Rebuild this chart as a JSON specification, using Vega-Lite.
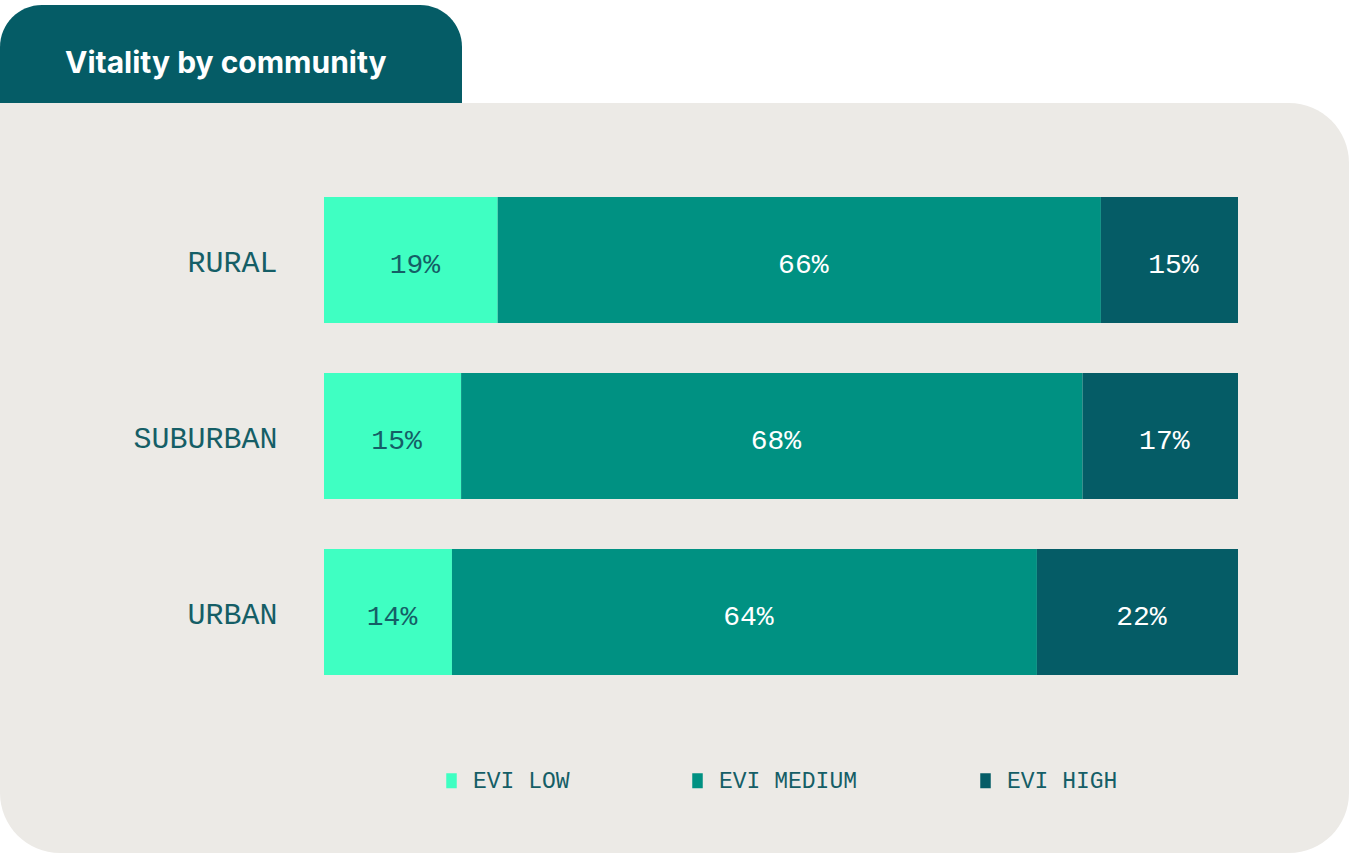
{
  "$schema": "https://vega.github.io/schema/vega-lite/v6.json",
  "background": "#FFFFFF",
  "padding": {"left": 0, "top": 5, "right": 0, "bottom": 0},
  "spacing": 0,
  "vconcat": [
    {
      "width": 462,
      "height": 98,
      "view": {"style": "tab"},
      "title": {
        "text": "Vitality by community",
        "anchor": "start",
        "frame": "group",
        "orient": "top",
        "offset": -98,
        "dx": 65,
        "baseline": "alphabetic",
        "font": "Inter",
        "fontSize": 30,
        "fontWeight": "bold",
        "color": "#FFFFFF"
      },
      "data": {"values": []},
      "mark": "rect",
      "encoding": {}
    },
    {
      "width": 1349,
      "height": 750,
      "data": {
        "values": [
          {"community": "RURAL", "level": "EVI LOW", "value": 0.19, "order": 1},
          {"community": "RURAL", "level": "EVI MEDIUM", "value": 0.66, "order": 2},
          {"community": "RURAL", "level": "EVI HIGH", "value": 0.15, "order": 3},
          {"community": "SUBURBAN", "level": "EVI LOW", "value": 0.15, "order": 1},
          {"community": "SUBURBAN", "level": "EVI MEDIUM", "value": 0.68, "order": 2},
          {"community": "SUBURBAN", "level": "EVI HIGH", "value": 0.17, "order": 3},
          {"community": "URBAN", "level": "EVI LOW", "value": 0.14, "order": 1},
          {"community": "URBAN", "level": "EVI MEDIUM", "value": 0.64, "order": 2},
          {"community": "URBAN", "level": "EVI HIGH", "value": 0.22, "order": 3}
        ]
      },
      "encoding": {
        "y": {
          "field": "community",
          "type": "nominal",
          "sort": ["RURAL", "SUBURBAN", "URBAN"],
          "scale": {"range": [94, 572], "paddingInner": 0.2841, "paddingOuter": 0},
          "axis": {
            "title": null,
            "domain": false,
            "ticks": false,
            "grid": false,
            "offset": -277,
            "labelPadding": 0,
            "labelOffset": 3,
            "labelFont": "Liberation Mono",
            "labelFontSize": 30,
            "labelColor": "#155E66",
            "labelAlign": "right",
            "labelBaseline": "middle"
          }
        }
      },
      "layer": [
        {
          "mark": {"type": "bar", "cornerRadius": 0},
          "encoding": {
            "x": {
              "field": "value",
              "type": "quantitative",
              "stack": "zero",
              "scale": {"domain": [0, 1], "range": [324, 1238]},
              "axis": null
            },
            "order": {"field": "order", "type": "quantitative"},
            "color": {
              "field": "level",
              "type": "nominal",
              "scale": {
                "domain": ["EVI LOW", "EVI MEDIUM", "EVI HIGH"],
                "range": ["#3FFFC2", "#009182", "#055C66"]
              },
              "legend": {
                "orient": "none",
                "direction": "horizontal",
                "legendX": 440,
                "legendY": 764,
                "title": null,
                "padding": 0,
                "symbolType": "M-0.7,-1L0.7,-1L0.7,1L-0.7,1Z",
                "symbolSize": 225,
                "symbolStrokeWidth": 0,
                "labelFont": "Liberation Mono",
                "labelFontSize": 23,
                "labelColor": "#155E66",
                "labelOffset": 10,
                "columnPadding": 116
              }
            }
          }
        },
        {
          "mark": {
            "type": "text",
            "font": "Liberation Mono",
            "fontSize": 28,
            "baseline": "middle",
            "align": "center",
            "dx": 4,
            "dy": 5
          },
          "encoding": {
            "x": {
              "field": "value",
              "type": "quantitative",
              "stack": "zero",
              "bandPosition": 0.5
            },
            "order": {"field": "order", "type": "quantitative"},
            "text": {"field": "value", "type": "quantitative", "format": ".0%"},
            "color": {
              "condition": {"test": "datum.level === 'EVI LOW'", "value": "#155E66"},
              "value": "#FFFFFF"
            }
          }
        }
      ]
    }
  ],
  "config": {
    "view": {"stroke": null},
    "style": {
      "tab": {"fill": "#055C66", "stroke": null, "cornerRadiusTopLeft": 42, "cornerRadiusTopRight": 42},
      "cell": {"fill": "#ECEAE6", "stroke": null, "cornerRadiusTopRight": 60, "cornerRadiusBottomRight": 60, "cornerRadiusBottomLeft": 60}
    }
  }
}
